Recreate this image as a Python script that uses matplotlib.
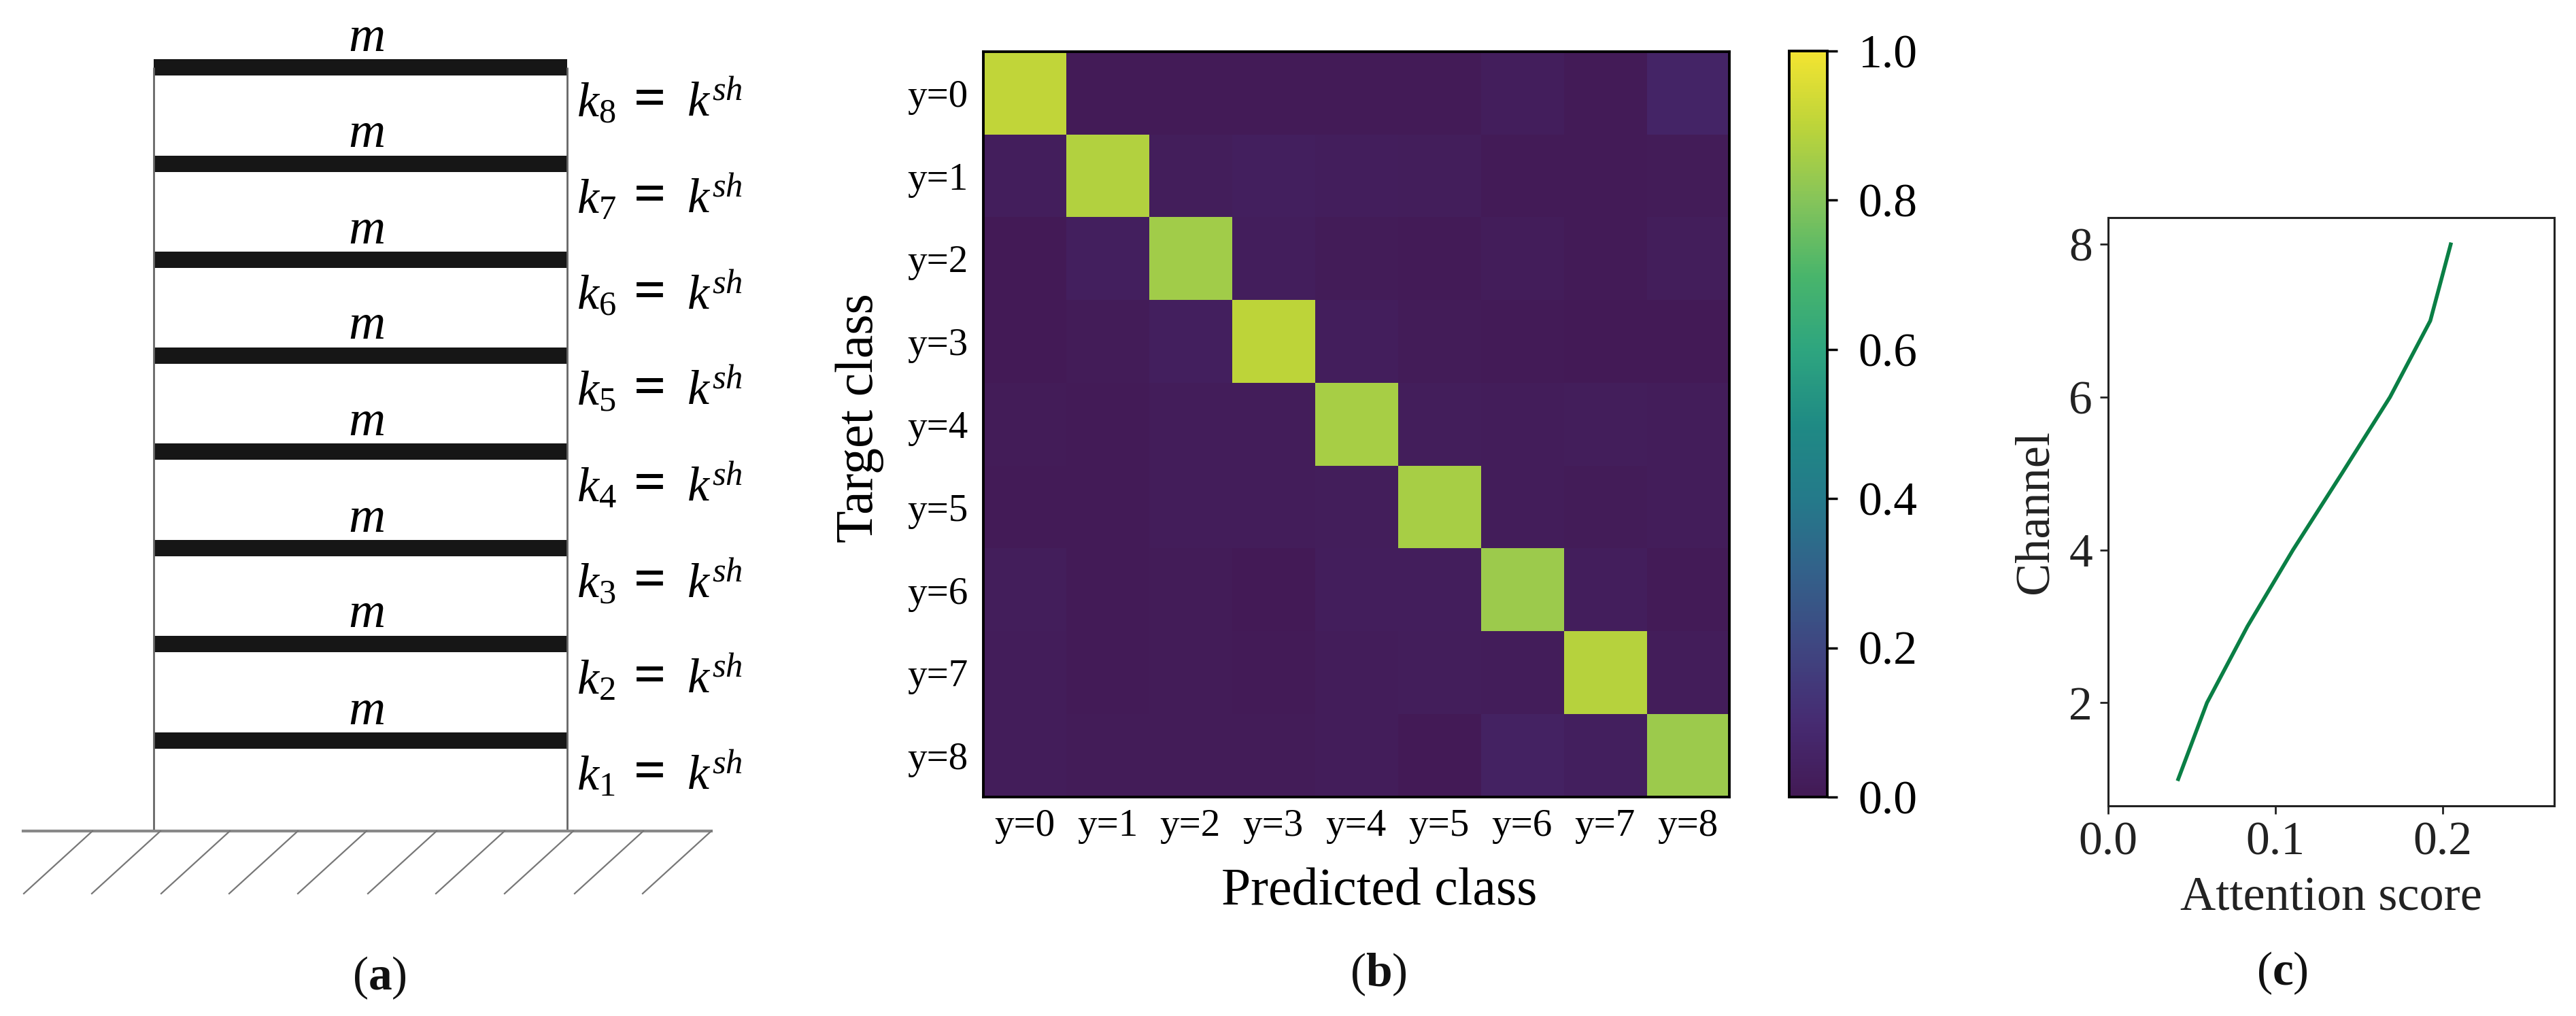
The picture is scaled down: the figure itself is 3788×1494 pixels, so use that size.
import numpy as np
import matplotlib
matplotlib.use('Agg')
import matplotlib.pyplot as plt
from matplotlib.colors import LinearSegmentedColormap

plt.rcParams['font.family'] = ['Liberation Serif', 'DejaVu Serif']
plt.rcParams['mathtext.fontset'] = 'custom'
plt.rcParams['mathtext.rm'] = 'Liberation Serif'
plt.rcParams['mathtext.it'] = 'Liberation Serif:italic'
plt.rcParams['mathtext.bf'] = 'Liberation Serif:bold'

W, H = 3788, 1494

# panel a: shear frame
floor_y = [99, 240.5, 381.5, 522.5, 664, 805.5, 946.5, 1089]
spring_base = [172, 313, 455, 596, 737, 879, 1020, 1161]
spring_no = [8, 7, 6, 5, 4, 3, 2, 1]
frame_x = [226, 834]
ground_y = 1222
hatch_x = [35, 135, 237, 337, 438, 541, 641, 742, 845, 945]

# panel b: confusion matrix
classes = ['y=0', 'y=1', 'y=2', 'y=3', 'y=4', 'y=5', 'y=6', 'y=7', 'y=8']
conf = np.array([
    [.91, .01, .01, .01, .01, .01, .03, .01, .06],
    [.03, .88, .025, .035, .03, .025, .01, .01, .015],
    [.005, .035, .85, .03, .015, .01, .02, .01, .025],
    [.005, .015, .035, .90, .03, .015, .01, .005, .005],
    [.015, .01, .02, .02, .86, .025, .02, .025, .02],
    [.01, .01, .02, .02, .025, .86, .02, .015, .02],
    [.025, .01, .015, .005, .03, .03, .84, .03, .01],
    [.02, .01, .015, .01, .02, .025, .02, .89, .02],
    [.02, .015, .015, .015, .02, .005, .05, .035, .84],
])
# viridis as it looks in the printed figure
cmap_colours = ['#431a55', '#462b72', '#3f4681', '#33618a', '#247a8a', '#1f8a84',
                '#2ea57f', '#49b56b', '#85c45a', '#bcd43a', '#f3e431']

# panel c: attention
channels = [1, 2, 3, 4, 5, 6, 7, 8]
attention = [0.0419, 0.0591, 0.0833, 0.1105, 0.1397, 0.1685, 0.1926, 0.2048]


def box(left, top, right, bottom):
    return [left / W, 1 - bottom / H, (right - left) / W, (bottom - top) / H]


fig = plt.figure(figsize=(W / 100, H / 100), dpi=100, facecolor='white')

# (a)
ax = fig.add_axes([0, 0, 1230 / W, 1])
ax.set_xlim(0, 1230)
ax.set_ylim(H, 0)
ax.axis('off')
ax.vlines(frame_x, floor_y[0], ground_y, color='#666666', lw=2)
ax.barh(floor_y, frame_x[1] - frame_x[0], height=24, left=frame_x[0], color='#161616')
ax.plot([34, 1046], [ground_y, ground_y], color='#888888', lw=3)
for x in hatch_x:
    ax.plot([x, x + 101], [1314, ground_y], color='#777777', lw=1.6)
for y in floor_y:
    ax.text(539, y - 24, '$m$', fontsize=54, ha='center', va='baseline')
for y, n in zip(spring_base, spring_no):
    ax.text(848, y, '$k_{%d}$' % n, fontsize=52, ha='left', va='baseline')
    ax.text(932, y - 2, '=', fontsize=60, fontweight='bold', ha='left', va='baseline')
    ax.text(1010, y, '$k^{sh}$', fontsize=52, ha='left', va='baseline')

# (b)
ax = fig.add_axes(box(1445.5, 76, 2543, 1172))
cmap = LinearSegmentedColormap.from_list('printed_viridis', cmap_colours)
im = ax.imshow(conf, cmap=cmap, vmin=0, vmax=1, aspect='auto')
ax.set_xticks(range(9), classes, fontsize=41)
ax.set_yticks(range(9), classes, fontsize=41)
ax.tick_params(length=0, pad=16)
ax.tick_params(axis='x', pad=12)
for s in ax.spines.values():
    s.set_linewidth(2.8)
ax.set_xlabel('Predicted class', fontsize=56)
ax.xaxis.set_label_coords(0.531, -0.094)
ax.set_ylabel('Target class', fontsize=56)
ax.yaxis.set_label_coords(-0.133, 0.509)

cax = fig.add_axes(box(2631, 75, 2687, 1172))
cb = fig.colorbar(im, cax=cax)
cb.set_ticks([0, 0.2, 0.4, 0.6, 0.8, 1.0])
cb.ax.tick_params(labelsize=50, length=11, width=2.5, pad=22)
cb.outline.set_linewidth(2.8)

# (c)
ax = fig.add_axes(box(3100, 320, 3756, 1185))
ax.plot(attention, channels, color='#0a7f45', lw=4)
ax.set_xlim(0, 0.2667)
ax.set_ylim(0.65, 8.35)
ax.set_xticks([0.0, 0.1, 0.2])
ax.set_yticks([2, 4, 6, 8])
ax.tick_params(labelsize=50, length=8.5, width=2, pad=8, colors='#222222')
for s in ax.spines.values():
    s.set_linewidth(2.2)
    s.set_color('#222222')
ax.set_xlabel('Attention score', fontsize=52, color='#222222', labelpad=12)
ax.set_ylabel('Channel', fontsize=52, color='#222222', labelpad=12)

# captions
for x, y, letter in [(558, 1438, 'a'), (2027, 1433, 'b'), (3356, 1431, 'c')]:
    fig.text(x / W, 1 - y / H, '($\\mathbf{%s}$)' % letter, fontsize=50, ha='center', va='center', color='#111111')

fig.savefig('out.png', dpi=100)
